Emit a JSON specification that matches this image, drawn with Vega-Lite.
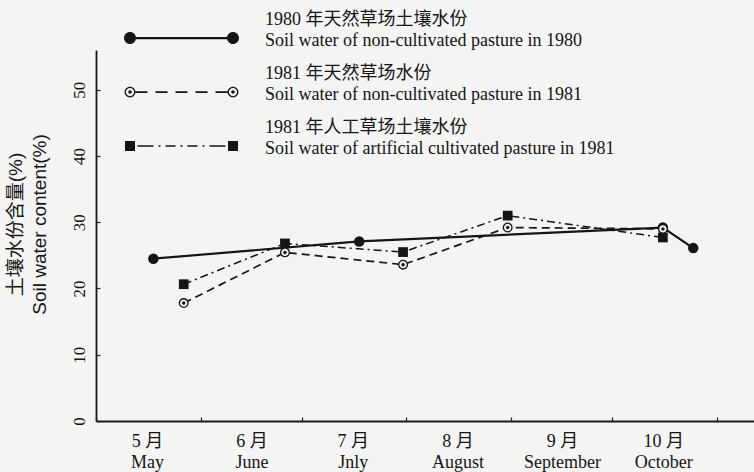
{
  "$schema": "https://vega.github.io/schema/vega-lite/v6.json",
  "width": 658,
  "height": 371,
  "autosize": {"type": "none"},
  "padding": {"left": 96, "top": 50, "right": 0, "bottom": 51},
  "background": "#f4f4f2",
  "config": {
    "view": {"stroke": null},
    "font": "Liberation Serif, Noto Sans CJK SC",
    "style": {"guide-label": {"lineHeight": 21}}
  },
  "data": {
    "values": [
      {"series": "1980 natural", "date": "1981-05-18", "water": 24.5},
      {"series": "1980 natural", "date": "1981-07-18", "water": 27.1},
      {"series": "1980 natural", "date": "1981-10-16", "water": 29.2},
      {"series": "1980 natural", "date": "1981-10-25", "water": 26.1},
      {"series": "1981 natural", "date": "1981-05-27", "water": 17.8},
      {"series": "1981 natural", "date": "1981-06-26", "water": 25.45},
      {"series": "1981 natural", "date": "1981-07-31", "water": 23.6},
      {"series": "1981 natural", "date": "1981-08-31", "water": 29.2},
      {"series": "1981 natural", "date": "1981-10-16", "water": 29.0},
      {"series": "1981 artificial", "date": "1981-05-27", "water": 20.65},
      {"series": "1981 artificial", "date": "1981-06-26", "water": 26.8},
      {"series": "1981 artificial", "date": "1981-07-31", "water": 25.5},
      {"series": "1981 artificial", "date": "1981-08-31", "water": 31.0},
      {"series": "1981 artificial", "date": "1981-10-16", "water": 27.7}
    ]
  },
  "encoding": {
    "x": {
      "field": "date",
      "type": "temporal",
      "scale": {
        "type": "utc",
        "domain": [
          {"year": 1981, "month": 5, "date": 1, "utc": true},
          {"year": 1981, "month": 11, "date": 12, "utc": true}
        ]
      },
      "axis": {
        "title": null,
        "grid": false,
        "values": [
          {"year": 1981, "month": 5, "date": 1, "utc": true},
          {"year": 1981, "month": 6, "date": 1, "utc": true},
          {"year": 1981, "month": 7, "date": 1, "utc": true},
          {"year": 1981, "month": 8, "date": 1, "utc": true},
          {"year": 1981, "month": 9, "date": 1, "utc": true},
          {"year": 1981, "month": 10, "date": 1, "utc": true},
          {"year": 1981, "month": 11, "date": 1, "utc": true}
        ],
        "labelExpr": "utcmonth(datum.value) > 9 ? '' : [(utcmonth(datum.value) + 1) + ' 月', ['May','June','Jnly','August','September','October'][utcmonth(datum.value) - 4]]",
        "labelOffset": 51,
        "labelFlush": false,
        "labelOverlap": false,
        "labelBaseline": "top",
        "labelAlign": "center",
        "labelPadding": 15,
        "labelLineHeight": 21,
        "labelFontSize": 18,
        "labelColor": "#151515",
        "tickSize": -4,
        "tickColor": "#222",
        "tickWidth": 1.2,
        "domainColor": "#1a1a1a",
        "domainWidth": 1.8
      }
    },
    "y": {
      "field": "water",
      "type": "quantitative",
      "scale": {"domain": [0, 56], "nice": false, "zero": true},
      "axis": {
        "title": ["土壤水份含量(%)", "Soil water content(%)"],
        "titleFont": "Liberation Sans, Noto Sans CJK SC",
        "titleFontSize": 19,
        "titleFontWeight": "normal",
        "titleLineHeight": 24,
        "titlePadding": 21,
        "titleY": 174,
        "titleColor": "#151515",
        "grid": false,
        "values": [0, 10, 20, 30, 40, 50],
        "labelAngle": -90,
        "labelAlign": "center",
        "labelBaseline": "bottom",
        "labelPadding": 12,
        "labelFontSize": 17,
        "labelFlush": false,
        "labelColor": "#151515",
        "tickSize": -4,
        "tickColor": "#222",
        "tickWidth": 1.2,
        "domainColor": "#1a1a1a",
        "domainWidth": 1.8
      }
    }
  },
  "layer": [
    {
      "transform": [{"filter": "datum.series === '1980 natural'"}],
      "mark": {"type": "line", "color": "#151515", "strokeWidth": 2.2}
    },
    {
      "transform": [{"filter": "datum.series === '1981 natural'"}],
      "mark": {"type": "line", "color": "#151515", "strokeWidth": 1.7, "strokeDash": [8, 5]}
    },
    {
      "transform": [{"filter": "datum.series === '1981 artificial'"}],
      "mark": {"type": "line", "color": "#151515", "strokeWidth": 1.5, "strokeDash": [8, 4, 2, 4]}
    },
    {
      "transform": [{"filter": "datum.series === '1980 natural'"}],
      "mark": {"type": "point", "shape": "circle", "filled": true, "size": 110, "color": "#151515", "opacity": 1}
    },
    {
      "transform": [{"filter": "datum.series === '1981 artificial'"}],
      "mark": {"type": "square", "size": 95, "color": "#151515", "opacity": 1}
    },
    {
      "transform": [{"filter": "datum.series === '1981 natural'"}],
      "mark": {"type": "point", "shape": "circle", "filled": true, "fill": "#f4f4f2", "stroke": "#151515", "strokeWidth": 1.3, "size": 75, "opacity": 1}
    },
    {
      "transform": [{"filter": "datum.series === '1981 natural'"}],
      "mark": {"type": "point", "shape": "circle", "filled": true, "size": 12, "color": "#151515", "opacity": 1}
    },
    {
      "mark": {"type": "point", "filled": true, "fill": "#151515", "strokeWidth": 1.2, "opacity": 0},
      "encoding": {
        "shape": {
          "field": "series",
          "type": "nominal",
          "scale": {
            "domain": ["1980 natural", "1981 natural", "1981 artificial"],
            "range": [
              "M-2.215,0.752L2.215,0.752L2.215,0.848L-2.215,0.848Z M-1.957,0.8C-1.957,0.9425 -2.0725,1.058 -2.215,1.058C-2.3575,1.058 -2.473,0.9425 -2.473,0.8C-2.473,0.6575 -2.3575,0.542 -2.215,0.542C-2.0725,0.542 -1.957,0.6575 -1.957,0.8Z M2.473,0.8C2.473,0.9425 2.3575,1.058 2.215,1.058C2.0725,1.058 1.957,0.9425 1.957,0.8C1.957,0.6575 2.0725,0.542 2.215,0.542C2.3575,0.542 2.473,0.6575 2.473,0.8Z",
              "M-1.978,0.764L-1.462,0.764L-1.462,0.836L-1.978,0.836Z M-1.118,0.764L-0.602,0.764L-0.602,0.836L-1.118,0.836Z M-0.258,0.764L0.258,0.764L0.258,0.836L-0.258,0.836Z M0.602,0.764L1.118,0.764L1.118,0.836L0.602,0.836Z M1.462,0.764L1.978,0.764L1.978,0.836L1.462,0.836Z M-1.98,0.8C-1.98,0.93 -2.085,1.035 -2.215,1.035C-2.345,1.035 -2.45,0.93 -2.45,0.8C-2.45,0.67 -2.345,0.565 -2.215,0.565C-2.085,0.565 -1.98,0.67 -1.98,0.8Z M-2.037,0.8C-2.037,0.702 -2.117,0.622 -2.215,0.622C-2.313,0.622 -2.393,0.702 -2.393,0.8C-2.393,0.898 -2.313,0.978 -2.215,0.978C-2.117,0.978 -2.037,0.898 -2.037,0.8Z M-2.14,0.8C-2.14,0.841 -2.174,0.875 -2.215,0.875C-2.256,0.875 -2.29,0.841 -2.29,0.8C-2.29,0.759 -2.256,0.725 -2.215,0.725C-2.174,0.725 -2.14,0.759 -2.14,0.8Z M2.45,0.8C2.45,0.93 2.345,1.035 2.215,1.035C2.085,1.035 1.98,0.93 1.98,0.8C1.98,0.67 2.085,0.565 2.215,0.565C2.345,0.565 2.45,0.67 2.45,0.8Z M2.393,0.8C2.393,0.702 2.313,0.622 2.215,0.622C2.117,0.622 2.037,0.702 2.037,0.8C2.037,0.898 2.117,0.978 2.215,0.978C2.313,0.978 2.393,0.898 2.393,0.8Z M2.29,0.8C2.29,0.841 2.256,0.875 2.215,0.875C2.174,0.875 2.14,0.841 2.14,0.8C2.14,0.759 2.174,0.725 2.215,0.725C2.256,0.725 2.29,0.759 2.29,0.8Z",
              "M-1.892,0.7675L-1.204,0.7675L-1.204,0.8325L-1.892,0.8325Z M-0.989,0.7675L-0.903,0.7675L-0.903,0.8325L-0.989,0.8325Z M-0.688,0.7675L-0.258,0.7675L-0.258,0.8325L-0.688,0.8325Z M-0.043,0.7675L0.043,0.7675L0.043,0.8325L-0.043,0.8325Z M0.258,0.7675L0.688,0.7675L0.688,0.8325L0.258,0.8325Z M0.903,0.7675L0.989,0.7675L0.989,0.8325L0.903,0.8325Z M1.204,0.7675L1.892,0.7675L1.892,0.8325L1.204,0.8325Z M-2.43,0.585L-2.0,0.585L-2.0,1.015L-2.43,1.015Z M2.0,0.585L2.43,0.585L2.43,1.015L2.0,1.015Z"
            ]
          },
          "legend": {
            "orient": "none",
            "direction": "vertical",
            "legendX": 61.5,
            "legendY": -54.5,
            "title": null,
            "padding": 0,
            "rowPadding": -9,
            "symbolSize": 2162.25,
            "symbolStrokeWidth": 1.2,
            "symbolFillColor": "#151515",
            "symbolOpacity": 1,
            "labelOffset": 59.5,
            "labelLimit": 500,
            "labelFontSize": 18,
            "labelColor": "#151515",
            "labelFont": "Liberation Serif, Noto Sans CJK SC",
            "labelExpr": "datum.value === '1980 natural' ? ['1980 年天然草场土壤水份', 'Soil water of non-cultivated pasture in 1980'] : datum.value === '1981 natural' ? ['1981 年天然草场水份', 'Soil water of non-cultivated pasture in 1981'] : ['1981 年人工草场土壤水份', 'Soil water of artificial cultivated pasture in 1981']"
          }
        }
      }
    }
  ]
}
